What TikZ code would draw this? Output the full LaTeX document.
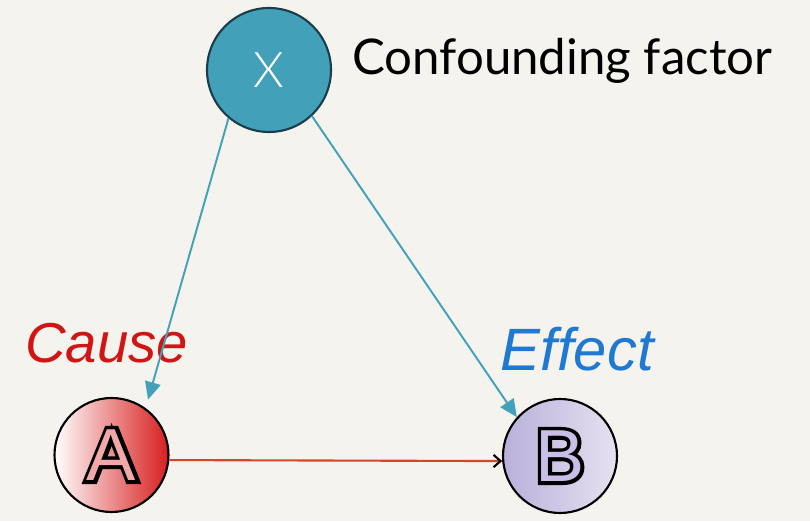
\documentclass[tikz,border=0pt]{standalone}
\usepackage{fontspec}
\setmainfont{Liberation Sans}
\newfontfamily\latofont{Lato}
\IfFontExistsTF{Lato Light}
  {\newfontfamily\latolight{Lato Light}}
  {\newfontfamily\latolight{Lato}}
\newfontfamily\boldletter[FakeBold=10]{Liberation Sans}
\usetikzlibrary{arrows.meta}

\definecolor{bgcol}{HTML}{F4F3EE}
\definecolor{xfill}{HTML}{42A0B9}
\definecolor{xborder}{HTML}{1B3E4C}
\definecolor{tealline}{HTML}{43A1BA}
\definecolor{causered}{HTML}{D81E1E}
\definecolor{causetext}{HTML}{D11414}
\definecolor{effectblue}{HTML}{1F78D1}
\definecolor{bleft}{HTML}{B9B0DA}
\definecolor{bright}{HTML}{E6E2F0}
\definecolor{abline}{HTML}{D2472B}
\definecolor{ainner}{HTML}{F2A8A8}
\definecolor{binner}{HTML}{C8BEE8}

\begin{document}
\begin{tikzpicture}[
    every node/.style={inner sep=0pt},
    ball/.style={circle, draw=black, line width=1.2pt, minimum size=2.28cm},
    letter/.style={font=\fontsize{42}{42}\selectfont},
    tealarrow/.style={tealline, line width=1.1pt, -{Triangle[length=10pt,width=9pt]}}
  ]
  % Background
  \fill[bgcol] (0,0) rectangle (16.2,10.42);

  % X
  \node[ball, fill=xfill, draw=xborder, minimum size=2.48cm] (x) at (5.38,9.02)
    {\latolight\fontsize{28}{28}\selectfont\color{white}X};
  \node[anchor=base west] (conf) at (7.04,8.92)
    {\latofont\fontsize{28}{28}\selectfont Confounding factor};

  % A and B, letters drawn as a black outline with the fill on top
  \node[ball, left color=white, right color=causered] (a) at (2.23,1.32)
    {\fontsize{42}{42}\selectfont\boldletter A};
  \node[letter, text=ainner] (alabel) at (a.center) {A};
  \node[ball, left color=bleft, right color=bright] (b) at (11.2,1.30)
    {\fontsize{42}{42}\selectfont\boldletter B};
  \node[letter, text=binner] (blabel) at (b.center) {B};

  % Labels
  \node[anchor=base west, text=causetext] (cause) at (0.5,3.17)
    {\fontsize{32}{32}\selectfont\itshape Cause};
  \node[anchor=base west, text=effectblue] (effect) at (10.01,3.01)
    {\fontsize{34}{34}\selectfont\itshape Effect};

  % Arrows
  \draw[tealarrow, shorten >=5pt] (x.230) -- (a.54);
  \draw[tealarrow] (x.313) -- (b.138);
  \draw[abline, line width=1.2pt, -{Straight Barb[length=4pt,width=7pt,color=black]}] (a.-5) -- (b.185);
\end{tikzpicture}
\end{document}
